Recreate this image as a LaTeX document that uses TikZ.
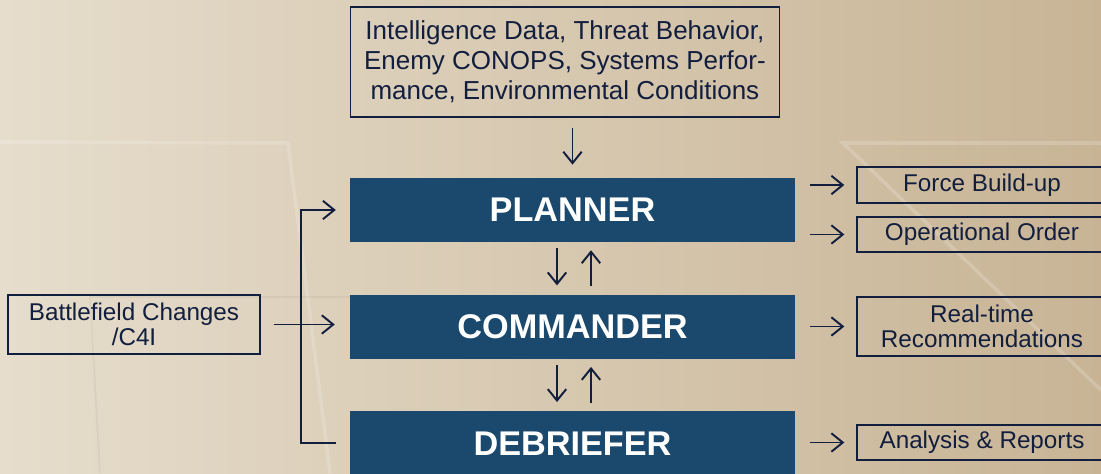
\documentclass[tikz,border=0pt]{standalone}
\usepackage{fontspec}
\setmainfont{Liberation Sans}
\usepackage{tikz}
\usetikzlibrary{arrows.meta,positioning,calc}
\definecolor{navy}{HTML}{121E3E}
\definecolor{rolefill}{HTML}{1B496D}
\definecolor{bgleft}{HTML}{E6DDCC}
\definecolor{bgright}{HTML}{C8B495}

\begin{document}
\begin{tikzpicture}[x=0.02cm,y=-0.02cm,>={Straight Barb[length=6.5pt,width=10.5pt]},
  role node/.style={rectangle,fill=rolefill,text=white,inner sep=0pt,
    minimum width=8.9cm,minimum height=1.28cm,font=\bfseries\fontsize{19.5}{22}\selectfont},
  info node/.style={rectangle,draw=navy,line width=0.85pt,text=navy,align=center,
    inner sep=0pt,font=\fontsize{13.8}{14}\selectfont},
  link/.style={->,draw=navy,line width=1.1pt}]

  % background
  \useasboundingbox (0,0) rectangle (1101,473);
  \fill[left color=bgleft,right color=bgright] (0,0) rectangle (1101,473);
  \draw[white,opacity=0.16,line width=2pt] (0,142) -- (288,143) -- (330,473);
  \draw[white,opacity=0.18,line width=2pt] (1101,143) -- (843,143) -- (1101,390);
  \draw[black,opacity=0.04,line width=1pt] (360,297) -- (90,297) -- (100,473);

  \node[role node] (planner) at (572.5,210) {PLANNER};
  \node[role node] (commander) [below=1.04cm of planner] {COMMANDER};
  \node[role node] (debriefer) [below=1.04cm of commander] {DEBRIEFER};

  \node[info node,minimum width=8.58cm,minimum height=2.2cm,
    font=\fontsize{14.8}{17}\selectfont] (input) [above right=1.2cm and 0cm of planner.north west]
    {Intelligence Data, Threat Behavior,\\Enemy CONOPS, Systems Perfor-\\mance, Environmental Conditions};
  \node[info node,minimum width=5.04cm,minimum height=1.18cm] (battle) at (134,324.5)
    {Battlefield Changes\\/C4I};

  \node[info node,minimum width=5cm,minimum height=0.72cm] (force) at (982,185) {Force Build-up};
  \node[info node,minimum width=5cm,minimum height=0.7cm] (order) at (982,234.5) {Operational Order};
  \node[info node,minimum width=5cm,minimum height=1.18cm] (advice) at (982,326.5) {Real-time\\Recommendations};
  \node[info node,minimum width=5cm,minimum height=0.7cm] (report) at (982,442.5) {Analysis \& Reports};

  \coordinate (bus) at (301,326);

  % inputs
  \draw[link,shorten <=5.7pt,shorten >=7.4pt] (input.south -| planner.north) -- (planner.north);
  \draw[link,shorten <=7.4pt,shorten >=8.5pt] (battle.east) -- (battle.east -| commander.west);
  \draw[link,shorten <=7.9pt,shorten >=7.9pt] (debriefer.west) -| (bus) |- (planner.west);

  % between roles
  \draw[link,shorten <=3.4pt,shorten >=5.1pt] ([xshift=-0.31cm]planner.south) -- ([xshift=-0.31cm]commander.north);
  \draw[link,shorten <=4.5pt,shorten >=4.5pt] ([xshift=0.37cm]commander.north) -- ([xshift=0.37cm]planner.south);
  \draw[link,shorten <=3.4pt,shorten >=5.1pt] ([xshift=-0.31cm]commander.south) -- ([xshift=-0.31cm]debriefer.north);
  \draw[link,shorten <=4.5pt,shorten >=4.5pt] ([xshift=0.37cm]debriefer.north) -- ([xshift=0.37cm]commander.south);

  % outputs
  \draw[link,shorten <=8.5pt,shorten >=6.8pt] (force.west -| planner.east) -- (force.west);
  \draw[link,shorten <=8.5pt,shorten >=6.8pt] (order.west -| planner.east) -- (order.west);
  \draw[link,shorten <=8.5pt,shorten >=6.8pt] (advice.west -| commander.east) -- (advice.west);
  \draw[link,shorten <=8.5pt,shorten >=6.8pt] (report.west -| debriefer.east) -- (report.west);
\end{tikzpicture}
\end{document}
